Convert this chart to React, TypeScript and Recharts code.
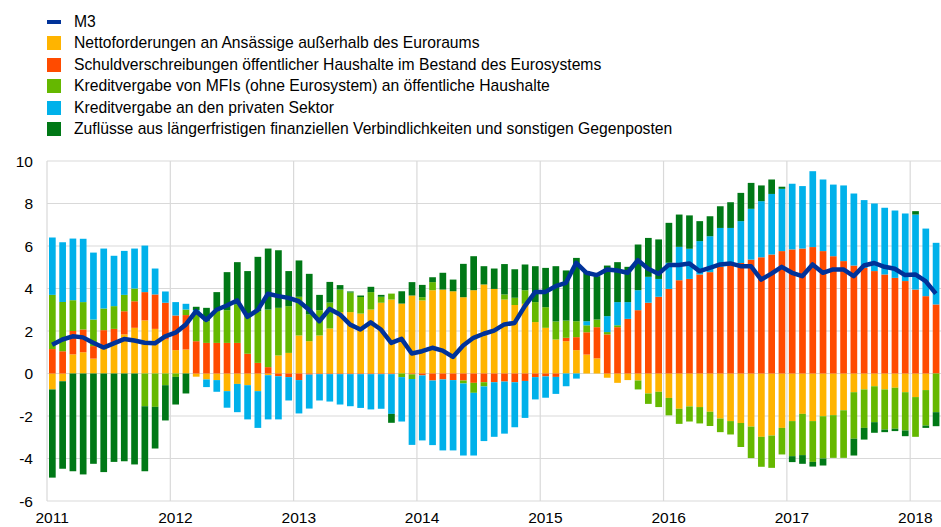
import { Bar, CartesianGrid, ComposedChart, Line, XAxis, YAxis } from "recharts"

// Monatswerte Jan 2011 – Mär 2018
const years = [2011, 2012, 2013, 2014, 2015, 2016, 2017, 2018]
const months = years
  .flatMap((y) => Array.from({ length: 12 }, (_, i) => `${y}-${String(i + 1).padStart(2, "0")}`))
  .slice(0, 87)

const yTicks = [-6, -4, -2, 0, 2, 4, 6, 8, 10]

const netto = [
  -0.75, -0.36, 0.9, 1.0, 0.7, 1.2, 1.44, 1.84, 2.15, 2.5,
  2.1, 1.6, 1.1, 1.13, -0.15, -0.28, -0.31, -0.83, -0.49, -0.55,
  -0.83, -0.08, 0.85, 0.97, 1.79, 1.52, 1.79, 2.12, 2.89, 2.89,
  2.82, 3.01, 3.33, 3.48, 3.29, 3.67, 3.44, 3.92, 3.95, 3.87,
  3.59, 3.92, 4.19, 3.98, 3.48, 3.22, 3.28, 2.42, 2.15, 1.6,
  1.52, 1.1, 0.89, 0.71, -0.2, -0.44, -0.31, -0.33, -0.94, -0.86,
  -1.15, -1.66, -1.55, -1.58, -1.8, -2.12, -2.24, -2.33, -2.5, -2.98,
  -2.92, -2.56, -2.24, -1.9, -2.24, -2.01, -1.96, -1.73, -0.88, -0.75,
  -0.6, -0.75, -0.67, -0.88, -1.11, -0.78, 0,
]

const schuldverschreibungen = [
  1.15, 1.05, 1.1, 1.07, 0.59, 0.84, 0.66, 1.09, 1.25, 1.33,
  1.62, 1.73, 1.63, 1.62, 1.52, 1.44, 1.44, 1.44, 1.44, 0.93,
  0.5, 0.3, -0.13, -0.17, -0.31, -0.05, -0.03, -0.03, -0.03, -0.03,
  -0.03, -0.03, -0.03, -0.03, 0, -0.04, -0.09, -0.33, -0.28, -0.31,
  -0.33, -0.44, -0.41, -0.41, -0.38, -0.41, -0.35, -0.17, -0.14, -0.16,
  0.16, 0.61, 1.05, 1.47, 1.84, 2.18, 2.57, 2.98, 3.33, 3.61,
  3.98, 4.39, 4.45, 4.66, 4.77, 5.02, 5.21, 5.2, 5.36, 5.47,
  5.6, 5.76, 5.84, 5.88, 5.95, 5.76, 5.52, 5.29, 5.08, 4.97,
  4.82, 4.66, 4.5, 4.35, 3.95, 3.64, 3.25,
]

const kreditOeffentlich = [
  2.55, 2.32, 1.45, 1.29, 1.25, 1.02, 1.07, 0.77, 0.6, -1.54,
  -1.57, -0.55, -0.16, 0.26, 1.35, 1.02, 1.57, 1.54, 1.81, 1.74,
  2.43, 2.71, 2.24, 2.2, 1.82, 1.26, 1.19, 1.22, 1.06, 0.92,
  0.78, 0.82, 0.28, 0.28, -0.17, -0.22, 0.15, 0.38, 0, 0,
  -0.14, -0.47, -0.2, 0, 0.24, 0.34, 0.64, 0.94, 0.97, 0.85,
  0.81, 0.75, 0.33, 0.36, 0.11, 0.09, 0, -0.42, -0.49, -0.72,
  -0.82, -0.71, -0.71, -0.77, -0.67, -0.64, -0.63, -1.13, -1.48, -1.41,
  -1.52, -1.25, -1.65, -1.94, -1.92, -1.99, -2.01, -2.24, -2.19, -1.81,
  -1.69, -1.89, -1.93, -1.8, -1.87, -1.67, -1.82,
]

const kreditPrivat = [
  2.7, 2.81, 2.9, 2.98, 3.15, 2.82, 2.37, 2.07, 1.88, 2.19,
  1.22, 0.53, 0.63, 0.27, 0.12, -0.36, -0.55, -0.78, -1.33, -1.61,
  -1.73, -2.08, -2.03, -1.1, -1.57, -1.6, -1.24, -1.29, -1.43, -1.51,
  -1.59, -1.66, -1.63, -1.87, -2.09, -3.1, -3.06, -3.04, -3.34, -3.31,
  -3.39, -2.95, -2.57, -2.57, -2.45, -2.12, -1.74, -1.05, -1.0, -0.8,
  -0.6, -0.24, 0.19, 0, 0.75, 1.09, 0.79, 0.94, 1.22, 0.84,
  1.23, 1.57, 1.42, 1.57, 1.69, 1.83, 1.64, 1.97, 2.39, 2.64,
  2.85, 2.93, 3.09, 2.94, 3.57, 3.37, 3.37, 3.56, 3.39, 3.19,
  3.18, 3.14, 3.17, 3.18, 3.53, 3.18, 2.9,
]

const zufluesse = [
  -4.15, -4.12, -4.6, -4.75, -4.25, -4.64, -4.16, -4.13, -4.28, -3.06,
  -1.96, -1.66, -1.3, -0.94, 0.15, 0.63, 0.82, 1.79, 1.99, 2.15,
  2.56, 2.87, 2.71, 1.65, 1.71, 1.91, 0.72, 0.97, 0.21, 0.05,
  0.07, 0.25, 0.09, -0.42, 0.58, 0.63, 0.58, 0.23, 0.79, 0.55,
  1.57, 1.6, 0.86, 0.96, 1.43, 1.35, 1.21, 1.69, 1.85, 2.6,
  2.36, 2.98, 2.36, 2.04, 2.38, 1.88, 1.66, 2.15, 1.83, 1.86,
  1.88, 1.52, 1.57, 0.94, 0.94, 1.02, 1.21, 1.33, 1.22, 0.74,
  0.68, 0.1, -0.28, -0.41, -0.22, -0.33, 0, 0, -0.79, -0.55,
  -0.5, -0.12, -0.11, -0.27, 0.16, -0.11, -0.66,
]

const m3 = [
  1.35, 1.6, 1.75, 1.7, 1.45, 1.22, 1.42, 1.62, 1.55, 1.45,
  1.42, 1.75, 1.92, 2.3, 2.93, 2.52, 3.0, 3.2, 3.44, 2.67,
  2.98, 3.75, 3.64, 3.56, 3.4, 3.0, 2.46, 3.04, 2.78, 2.3,
  2.07, 2.41, 2.07, 1.44, 1.63, 0.94, 1.05, 1.21, 1.08, 0.78,
  1.32, 1.68, 1.87, 2.02, 2.31, 2.38, 3.17, 3.83, 3.84, 4.11,
  4.27, 5.21, 4.74, 4.63, 4.89, 4.85, 4.74, 5.33, 4.93, 4.69,
  5.11, 5.11, 5.18, 4.82, 4.97, 5.13, 5.18, 5.05, 5.05, 4.42,
  4.7, 5.02, 4.74, 4.58, 5.13, 4.74, 4.9, 4.9, 4.58, 5.08,
  5.2, 5.02, 4.93, 4.63, 4.66, 4.35, 3.76,
]

const series = [
  { key: "netto", name: "Nettoforderungen an Ansässige außerhalb des Euroraums", color: "#FFB400" },
  { key: "schuld", name: "Schuldverschreibungen öffentlicher Haushalte im Bestand des Eurosystems", color: "#FF4B00" },
  { key: "oeff", name: "Kreditvergabe von MFIs (ohne Eurosystem) an öffentliche Haushalte", color: "#65B800" },
  { key: "privat", name: "Kreditvergabe an den privaten Sektor", color: "#00B1EA" },
  { key: "zufluss", name: "Zuflüsse aus längerfristigen finanziellen Verbindlichkeiten und sonstigen Gegenposten", color: "#007816" },
]

const data = months.map((m, i) => ({
  m,
  netto: netto[i],
  schuld: schuldverschreibungen[i],
  oeff: kreditOeffentlich[i],
  privat: kreditPrivat[i],
  zufluss: zufluesse[i],
  m3: m3[i],
}))

const font = "'Liberation Sans', Arial, sans-serif"

function Legend() {
  return (
    <div style={{ position: "absolute", left: 0, top: 11, fontFamily: font, fontSize: 15.7, color: "#000" }}>
      <div style={{ height: 21.5, display: "flex", alignItems: "center" }}>
        <span style={{ marginLeft: 47, width: 14, height: 4, background: "#003299" }} />
        <span style={{ marginLeft: 13 }}>M3</span>
      </div>
      {series.map((s) => (
        <div key={s.key} style={{ height: 21.5, display: "flex", alignItems: "center", whiteSpace: "nowrap" }}>
          <span style={{ marginLeft: 47, width: 14, height: 14, background: s.color }} />
          <span style={{ marginLeft: 13 }}>{s.name}</span>
        </div>
      ))}
    </div>
  )
}

export default function App() {
  return (
    <div style={{ position: "absolute", left: 0, top: 0, width: 941, height: 527, background: "#fff" }}>
      <Legend />
      <ComposedChart
        width={941}
        height={527}
        data={data}
        stackOffset="sign"
        margin={{ top: 161, right: 0, bottom: 0, left: 0 }}
      >
        <CartesianGrid
          stroke="#d9d9d9"
          strokeWidth={1.2}
          verticalCoordinatesGenerator={({ offset }: any) => {
            const bw = offset.width / months.length
            return years.map((_, i) => offset.left + i * 12 * bw)
          }}
        />
        <XAxis
          dataKey="m"
          interval={0}
          tickFormatter={(v: string) => (v.endsWith("-01") ? v.slice(0, 4) : "")}
          axisLine={false}
          tickLine={false}
          height={26}
          tickMargin={5}
          tick={{ fontSize: 15.5, fill: "#000", fontFamily: font }}
        />
        <YAxis
          type="number"
          domain={[-6, 10]}
          ticks={yTicks}
          width={47}
          axisLine={false}
          tickLine={false}
          tickMargin={8}
          tick={{ fontSize: 15.5, fill: "#000", fontFamily: font }}
        />
        {series.map((s) => (
          <Bar key={s.key} dataKey={s.key} stackId="a" fill={s.color} barSize={6.7} isAnimationActive={false} />
        ))}
        <Line
          type="linear"
          dataKey="m3"
          stroke="#003299"
          strokeWidth={4.5}
          strokeLinejoin="round"
          dot={false}
          activeDot={false}
          isAnimationActive={false}
        />
      </ComposedChart>
    </div>
  )
}
